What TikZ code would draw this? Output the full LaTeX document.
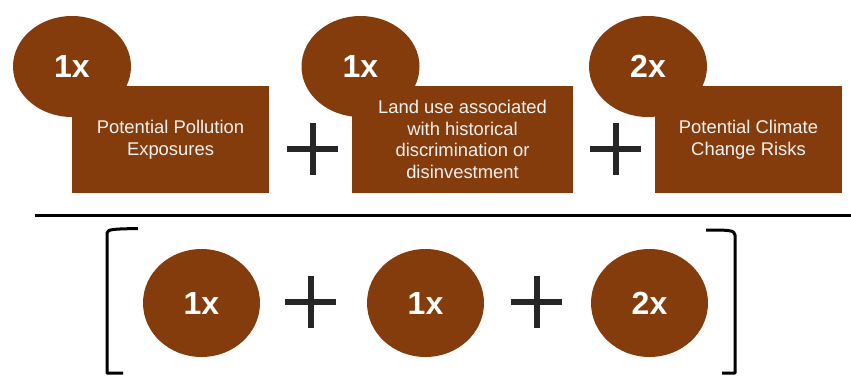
\documentclass[tikz,border=0pt]{standalone}
\usepackage{fontspec}
\setmainfont{Liberation Sans}
\usetikzlibrary{shapes.geometric}
\definecolor{brn}{HTML}{843C0C}
\definecolor{plusc}{HTML}{262626}
\definecolor{boxtxt}{HTML}{F2F2F2}
\tikzset{
  x=1pt,y=-1pt,
  topcirc/.style={ellipse,fill=brn,inner sep=0pt,minimum width=118pt,minimum height=101pt,
    text=white,font=\fontsize{32}{32}\selectfont\bfseries},
  botcirc/.style={ellipse,fill=brn,inner sep=0pt,minimum width=117pt,minimum height=108pt,
    text=white,font=\fontsize{32}{32}\selectfont\bfseries},
  factorbox/.style={rectangle,fill=brn,inner sep=0pt,text=boxtxt,align=center,
    font=\fontsize{18.4}{21.7}\selectfont},
  plusbar/.style={draw=plusc,line width=6pt},
  bracketline/.style={draw=black,line width=3pt}
}
\newcommand{\plussign}[3]{%
  \coordinate (#1) at (#2,#3);
  \draw[plusbar] ([xshift=-25.5pt]#1) -- ([xshift=25.5pt]#1);
  \draw[plusbar] ([yshift=26pt]#1) -- ([yshift=-26pt]#1);
}
\begin{document}
\begin{tikzpicture}
\useasboundingbox (0,0) rectangle (851,376);
% top row
\node[topcirc] (c1) at (72,66.5) {};
\node[factorbox,minimum width=197pt,minimum height=107pt] (b1) at (170.5,139.5) {Potential Pollution\\Exposures};
\node[text=white,font=\fontsize{32}{32}\selectfont\bfseries] (t1) at (c1) {1x};
\node[topcirc] (c2) at (360.5,66.5) {};
\node[factorbox,minimum width=221pt,minimum height=107pt] (b2) at (462.5,139.5) {Land use associated\\with historical\\discrimination or\\disinvestment};
\node[text=white,font=\fontsize{32}{32}\selectfont\bfseries] (t2) at (c2) {1x};
\node[topcirc] (c3) at (648,66.5) {};
\node[factorbox,minimum width=187pt,minimum height=107pt] (b3) at (748.5,139.5) {Potential Climate\\Change Risks};
\node[text=white,font=\fontsize{32}{32}\selectfont\bfseries] (t3) at (c3) {2x};
\plussign{p1}{312.5}{149}
\plussign{p2}{615.5}{149}
% fraction line
\coordinate (fl) at (35,215);
\coordinate (fr) at (851,215);
\draw[line width=3pt] (fl) -- (fr);
% brackets
\coordinate (lbt) at (138,228.5);
\coordinate (lbb) at (123,373);
\draw[bracketline,line join=round] (lbt) .. controls (115,229) and (107,229) .. (107,233) -- (107,373) -- (lbb);
\coordinate (rbt) at (706,230);
\coordinate (rbb) at (722,373);
\draw[bracketline,line join=round] (rbt) .. controls (728,230) and (735,230) .. (735,235) -- (735,373) -- (rbb);
% bottom row
\node[botcirc] (d1) at (201.5,303) {1x};
\node[botcirc] (d2) at (425.5,303) {1x};
\node[botcirc] (d3) at (649.5,303) {2x};
\plussign{q1}{310.5}{302}
\plussign{q2}{536.5}{302}
\end{tikzpicture}
\end{document}
